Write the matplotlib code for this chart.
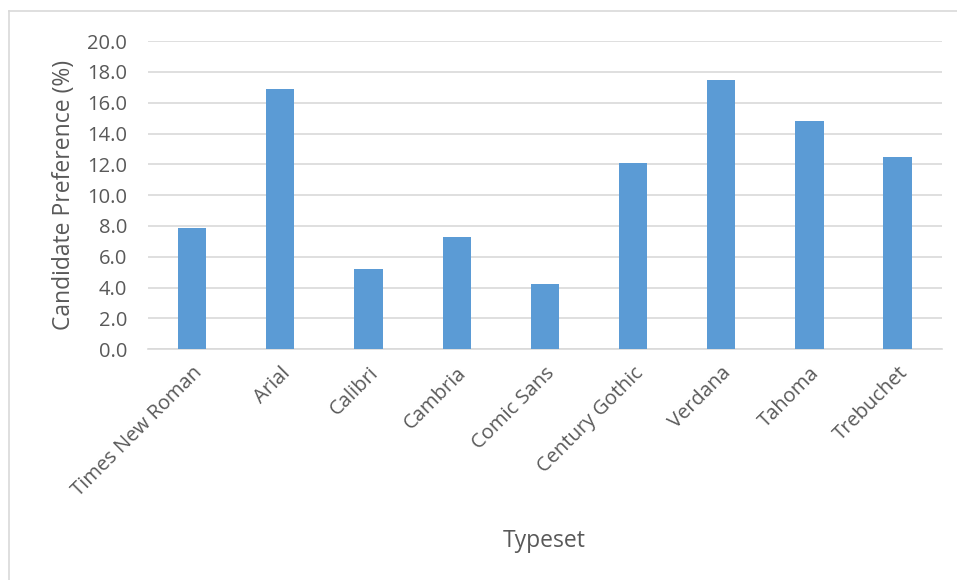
import matplotlib.pyplot as plt
from matplotlib.lines import Line2D

# typeset preference data
typesets = ["Times New Roman", "Arial", "Calibri", "Cambria", "Comic Sans",
            "Century Gothic", "Verdana", "Tahoma", "Trebuchet"]
preference = [7.9, 16.9, 5.2, 7.3, 4.2, 12.1, 17.5, 14.8, 12.5]
y_ticks = [0, 2, 4, 6, 8, 10, 12, 14, 16, 18, 20]

plt.rcParams["font.family"] = ["Open Sans", "DejaVu Sans"]
text_color = "#595959"
grid_color = "#d9d9d9"

fig = plt.figure(figsize=(9.57, 5.8), dpi=100)
ax = fig.add_axes([0.1547, 0.398, 0.8293, 0.531])

x = range(len(typesets))
ax.bar(x, preference, width=0.32, color="#5b9bd5", zorder=3)

ax.set_xlim(-0.5, len(typesets) - 0.5)
ax.set_ylim(0, 20)
ax.set_yticks(y_ticks)
ax.set_yticklabels([f"{v:.1f}" for v in y_ticks])
ax.set_xticks(list(x))
ax.set_xticklabels(typesets, rotation=45, ha="right", rotation_mode="anchor")

ax.tick_params(axis="both", length=0, labelsize=14.5, labelcolor=text_color)
ax.tick_params(axis="y", pad=15)
ax.tick_params(axis="x", pad=10)
ax.grid(axis="y", color=grid_color, lw=1.2, zorder=0)
for side in ["top", "right", "left"]:
    ax.spines[side].set_visible(False)
ax.spines["bottom"].set_color(grid_color)
ax.spines["bottom"].set_linewidth(1.2)

ax.set_ylabel("Candidate Preference (%)", fontsize=16.5, color=text_color, labelpad=8)
fig.text(0.569, 0.067, "Typeset", fontsize=16.5, color=text_color, ha="center", va="center")

# light frame round the chart (only the top and left edges fall inside the image)
fig.add_artist(Line2D([0.0094, 1.0], [0.981, 0.981], transform=fig.transFigure,
                      color=grid_color, lw=1.2))
fig.add_artist(Line2D([0.0094, 0.0094], [0.0, 0.981], transform=fig.transFigure,
                      color=grid_color, lw=1.2))

fig.savefig("out.png", dpi=100)
